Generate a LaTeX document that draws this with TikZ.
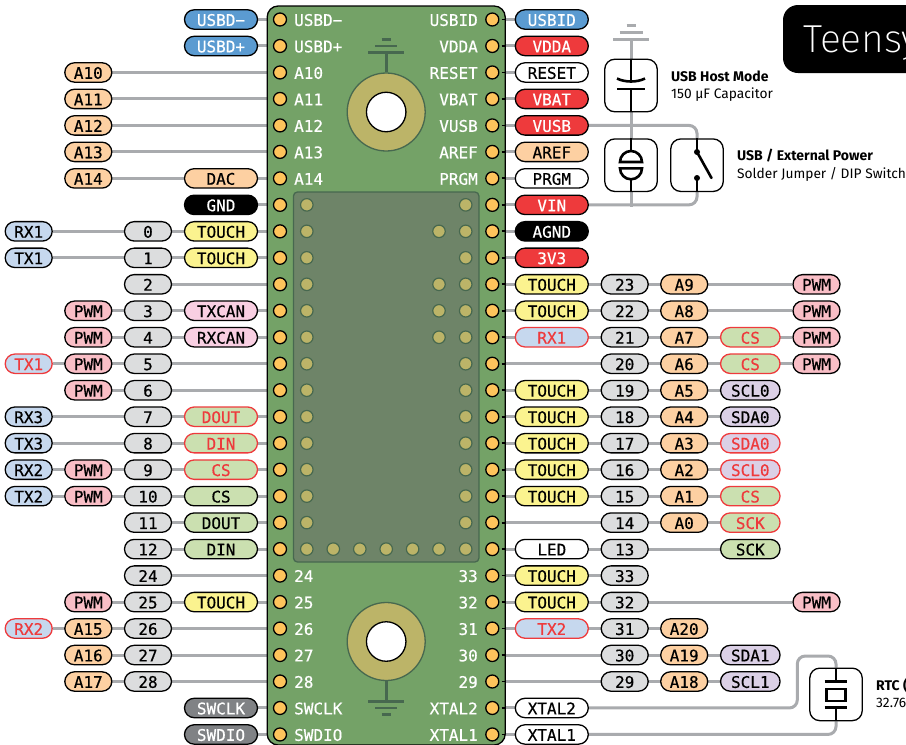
\documentclass[tikz,border=0pt]{standalone}
\usepackage{fontspec}
\newfontfamily\pillfont[FakeBold=0.5]{DejaVu Sans Mono}
\newfontfamily\capfont{Fira Sans}
\newfontfamily\titlefont{Fira Sans ExtraLight}
\pgfdeclarelayer{wires}
\pgfsetlayers{wires,main}
\definecolor{cusb}{HTML}{5B9BD1}
\definecolor{cred}{HTML}{EE3A3C}
\definecolor{cora}{HTML}{FDD0A2}
\definecolor{cgry}{HTML}{DCDDDE}
\definecolor{cyel}{HTML}{FBF38F}
\definecolor{cpnk}{HTML}{F9CFE2}
\definecolor{cpwm}{HTML}{F9BEC6}
\definecolor{cser}{HTML}{C6D8EE}
\definecolor{cgrn}{HTML}{CBE0B0}
\definecolor{cpur}{HTML}{DBD0E6}
\definecolor{cdrk}{HTML}{808285}
\definecolor{cwire}{HTML}{A9ABAE}
\definecolor{cpad}{HTML}{FEC45C}
\definecolor{cboard}{HTML}{74A267}
\definecolor{cmod}{HTML}{6E8468}
\definecolor{cring}{HTML}{BCB468}
\definecolor{cedge}{HTML}{47684F}
\tikzset{
  pill/.style={draw=black,line width=1.3pt,rounded corners=9.7pt,minimum height=19.4pt,inner sep=0pt,
    text height=12.7pt,text depth=0pt,font=\pillfont\fontsize{16}{18}\selectfont},
  usbp/.style={fill=cusb,text=white},
  redp/.style={fill=cred,text=white},
  blkp/.style={fill=black,text=white},
  drkp/.style={fill=cdrk,text=white},
  whtp/.style={fill=white},
  orap/.style={fill=cora},
  gryp/.style={fill=cgry},
  yelp/.style={fill=cyel},
  pnkp/.style={fill=cpnk},
  pwmp/.style={fill=cpwm},
  serp/.style={fill=cser},
  grnp/.style={fill=cgrn},
  purp/.style={fill=cpur},
  alert/.style={draw=cred,text=cred},
  wire/.style={draw=cwire,line width=3pt},
  pad/.style={circle,draw=black,line width=1.3pt,fill=cpad,minimum size=13pt,inner sep=0pt},
  boardlabel/.style={text=white,inner sep=0pt,text height=12.7pt,text depth=0pt,font=\pillfont\fontsize{16}{18}\selectfont},
  hole/.style={circle,draw=cedge,line width=1.2pt,fill=cring,minimum size=12.5pt,inner sep=0pt},
  ring/.style={circle,draw=cedge,line width=1.3pt,fill=cring,minimum size=78pt,inner sep=0pt},
  bore/.style={circle,draw=black,line width=1.3pt,fill=white,minimum size=39.5pt,inner sep=0pt},
  gndbar/.style={draw=cedge,line width=2.6pt},
  symbox/.style={draw=black,line width=1.3pt,fill=white,rounded corners=10pt,minimum size=52.5pt,inner sep=0pt},
  sym/.style={draw=black,line width=2.6pt},
  captxt/.style={inner sep=0pt,anchor=base west,font=\capfont\fontsize{13.75}{15}\selectfont},
  capbold/.style={inner sep=0pt,anchor=base west,font=\capfont\bfseries\fontsize{14}{15}\selectfont},
}
\def\xA{28.7}\def\xB{88.3}\def\xC{148}\def\xD{221}
\def\xE{551.8}\def\xF{624.7}\def\xG{684.2}\def\xH{750.3}\def\xK{816.5}
\def\wA{47}\def\wB{47}\def\wC{47}\def\wD{73}\def\wE{73}\def\wF{47}\def\wG{47}\def\wH{59.5}\def\wK{47}
% \pl{column}{row}{style}{text}
\newcommand\pl[4]{\node[pill,#3,minimum width=\csname w#1\endcsname pt] (#1#2) at ({\csname x#1\endcsname},{19.5+26.48*#2}) {#4};}
\begin{document}
\begin{tikzpicture}[x=1pt,y=-1pt]
\useasboundingbox (0,0) rectangle (906,745);
% board
\node[draw=black,line width=1.3pt,fill=cboard,rounded corners=11pt,minimum width=238pt,minimum height=739pt,inner sep=0pt] (board) at (386.2,375.5) {};
\node[draw=cedge,line width=1.3pt,fill=cmod,rounded corners=4pt,minimum width=185.5pt,minimum height=370pt,inner sep=0pt] (module) at (386.2,377) {};
% mounting holes
\node[ring] (ringT) at (386.2,112) {};
\node[bore] (boreT) at (386.2,112) {};
\node[ring] (ringB) at (386.2,641.5) {};
\node[bore] (boreB) at (386.2,641.5) {};
\coordinate (gT0) at (386.2,52.3);
\coordinate (gB0) at (386.2,701.3);
\draw[gndbar] (ringT.north) -- (gT0);
\draw[gndbar] (ringB.south) -- (gB0);
\draw[gndbar] ([xshift=-18pt]gT0) -- ([xshift=18pt]gT0);
\draw[gndbar] ([xshift=-11pt,yshift=6.3pt]gT0) -- ([xshift=11pt,yshift=6.3pt]gT0);
\draw[gndbar] ([xshift=-4.5pt,yshift=13pt]gT0) -- ([xshift=4.5pt,yshift=13pt]gT0);
\draw[gndbar] ([xshift=-18pt]gB0) -- ([xshift=18pt]gB0);
\draw[gndbar] ([xshift=-11pt,yshift=-6.5pt]gB0) -- ([xshift=11pt,yshift=-6.5pt]gB0);
\draw[gndbar] ([xshift=-4.5pt,yshift=-13.4pt]gB0) -- ([xshift=4.5pt,yshift=-13.4pt]gB0);
% module holes
\foreach \r in {7,...,20} {
  \node[hole] (hl\r) at (306.8,{19.5+26.48*\r}) {};
  \node[hole] (hr\r) at (465.7,{19.5+26.48*\r}) {};
}
\foreach \r in {8,10,11,12} \node[hole] (hx\r) at (439,{19.5+26.48*\r}) {};
\foreach \x in {333.3,359.8,386.2,412.6,439} \node[hole] (hb\x) at (\x,{19.5+26.48*20}) {};
% pads
\foreach \r in {0,...,27} {
  \node[pad] (P\r) at (280,{19.5+26.48*\r}) {};
  \node[pad] (Q\r) at (492.3,{19.5+26.48*\r}) {};
  \coordinate (qs\r) at (501.5,{19.5+26.48*\r});
  \coordinate (qe\r) at (505,{19.5+26.48*\r});
  \draw[black,line width=1.8pt] (qs\r) -- (qe\r);
}
% board labels
\foreach \r/\t in {0/USBD−,1/USBD+,2/A10,3/A11,4/A12,5/A13,6/A14,21/24,22/25,23/26,24/27,25/28,26/SWCLK,27/SWDIO}
  \node[boardlabel,anchor=west] (LL\r) at (294,{19.5+26.48*\r}) {\t};
\foreach \r/\t in {0/USBID,1/VDDA,2/RESET,3/VBAT,4/VUSB,5/AREF,6/PRGM,21/33,22/32,23/31,24/30,25/29,26/XTAL2,27/XTAL1}
  \node[boardlabel,anchor=east] (RL\r) at (478,{19.5+26.48*\r}) {\t};
% left pills
\pl{D}{0}{usbp}{USBD−}
\pl{D}{1}{usbp}{USBD+}
\pl{B}{2}{orap}{A10}
\pl{B}{3}{orap}{A11}
\pl{B}{4}{orap}{A12}
\pl{B}{5}{orap}{A13}
\pl{B}{6}{orap}{A14}
\pl{D}{6}{orap}{DAC}
\pl{D}{7}{blkp}{GND}
\pl{A}{8}{serp}{RX1}\pl{C}{8}{gryp}{0}\pl{D}{8}{yelp}{TOUCH}
\pl{A}{9}{serp}{TX1}\pl{C}{9}{gryp}{1}\pl{D}{9}{yelp}{TOUCH}
\pl{C}{10}{gryp}{2}
\pl{B}{11}{pwmp}{PWM}\pl{C}{11}{gryp}{3}\pl{D}{11}{pnkp}{TXCAN}
\pl{B}{12}{pwmp}{PWM}\pl{C}{12}{gryp}{4}\pl{D}{12}{pnkp}{RXCAN}
\pl{A}{13}{serp,alert}{TX1}\pl{B}{13}{pwmp}{PWM}\pl{C}{13}{gryp}{5}
\pl{B}{14}{pwmp}{PWM}\pl{C}{14}{gryp}{6}
\pl{A}{15}{serp}{RX3}\pl{C}{15}{gryp}{7}\pl{D}{15}{grnp,alert}{DOUT}
\pl{A}{16}{serp}{TX3}\pl{C}{16}{gryp}{8}\pl{D}{16}{grnp,alert}{DIN}
\pl{A}{17}{serp}{RX2}\pl{B}{17}{pwmp}{PWM}\pl{C}{17}{gryp}{9}\pl{D}{17}{grnp,alert}{CS}
\pl{A}{18}{serp}{TX2}\pl{B}{18}{pwmp}{PWM}\pl{C}{18}{gryp}{10}\pl{D}{18}{grnp}{CS}
\pl{C}{19}{gryp}{11}\pl{D}{19}{grnp}{DOUT}
\pl{C}{20}{gryp}{12}\pl{D}{20}{grnp}{DIN}
\pl{C}{21}{gryp}{24}
\pl{B}{22}{pwmp}{PWM}\pl{C}{22}{gryp}{25}\pl{D}{22}{yelp}{TOUCH}
\pl{A}{23}{serp,alert}{RX2}\pl{B}{23}{orap}{A15}\pl{C}{23}{gryp}{26}
\pl{B}{24}{orap}{A16}\pl{C}{24}{gryp}{27}
\pl{B}{25}{orap}{A17}\pl{C}{25}{gryp}{28}
\pl{D}{26}{drkp}{SWCLK}
\pl{D}{27}{drkp}{SWDIO}
% right pills
\pl{E}{0}{usbp}{USBID}
\pl{E}{1}{redp}{VDDA}
\pl{E}{2}{whtp}{RESET}
\pl{E}{3}{redp}{VBAT}
\pl{E}{4}{redp}{VUSB}
\pl{E}{5}{orap}{AREF}
\pl{E}{6}{whtp}{PRGM}
\pl{E}{7}{redp}{VIN}
\pl{E}{8}{blkp}{AGND}
\pl{E}{9}{redp}{3V3}
\pl{E}{10}{yelp}{TOUCH}\pl{F}{10}{gryp}{23}\pl{G}{10}{orap}{A9}\pl{K}{10}{pwmp}{PWM}
\pl{E}{11}{yelp}{TOUCH}\pl{F}{11}{gryp}{22}\pl{G}{11}{orap}{A8}\pl{K}{11}{pwmp}{PWM}
\pl{E}{12}{serp,alert}{RX1}\pl{F}{12}{gryp}{21}\pl{G}{12}{orap}{A7}\pl{H}{12}{grnp,alert}{CS}\pl{K}{12}{pwmp}{PWM}
\pl{F}{13}{gryp}{20}\pl{G}{13}{orap}{A6}\pl{H}{13}{grnp,alert}{CS}\pl{K}{13}{pwmp}{PWM}
\pl{E}{14}{yelp}{TOUCH}\pl{F}{14}{gryp}{19}\pl{G}{14}{orap}{A5}\pl{H}{14}{purp}{SCL0}
\pl{E}{15}{yelp}{TOUCH}\pl{F}{15}{gryp}{18}\pl{G}{15}{orap}{A4}\pl{H}{15}{purp}{SDA0}
\pl{E}{16}{yelp}{TOUCH}\pl{F}{16}{gryp}{17}\pl{G}{16}{orap}{A3}\pl{H}{16}{purp,alert}{SDA0}
\pl{E}{17}{yelp}{TOUCH}\pl{F}{17}{gryp}{16}\pl{G}{17}{orap}{A2}\pl{H}{17}{purp,alert}{SCL0}
\pl{E}{18}{yelp}{TOUCH}\pl{F}{18}{gryp}{15}\pl{G}{18}{orap}{A1}\pl{H}{18}{grnp,alert}{CS}
\pl{F}{19}{gryp}{14}\pl{G}{19}{orap}{A0}\pl{H}{19}{grnp,alert}{SCK}
\pl{E}{20}{whtp}{LED}\pl{F}{20}{gryp}{13}\pl{H}{20}{grnp}{SCK}
\pl{E}{21}{yelp}{TOUCH}\pl{F}{21}{gryp}{33}
\pl{E}{22}{yelp}{TOUCH}\pl{F}{22}{gryp}{32}\pl{K}{22}{pwmp}{PWM}
\pl{E}{23}{serp,alert}{TX2}\pl{F}{23}{gryp}{31}\pl{G}{23}{orap}{A20}
\pl{F}{24}{gryp}{30}\pl{G}{24}{orap}{A19}\pl{H}{24}{purp}{SDA1}
\pl{F}{25}{gryp}{29}\pl{G}{25}{orap}{A18}\pl{H}{25}{purp}{SCL1}
\pl{E}{26}{whtp}{XTAL2}
\pl{E}{27}{whtp}{XTAL1}
% schematic boxes
\node[symbox] (capbox) at (631,85.5) {};
\node[symbox] (jmpbox) at (631,165.2) {};
\node[symbox] (swbox) at (697,165.2) {};
\node[symbox] (xtalbox) at (836,694.4) {};
% capacitor
\coordinate (capU) at (631,81.5);
\coordinate (capL) at (631,89);
\draw[sym] (capbox.north) -- (capU);
\draw[sym] (capL) -- (capbox.south);
\draw[sym] ([xshift=-14pt,yshift=3pt]capU) .. controls ([xshift=-6pt,yshift=-1pt]capU) and ([xshift=6pt,yshift=-1pt]capU) .. ([xshift=14pt,yshift=3pt]capU);
\draw[sym] ([xshift=-14pt]capL) -- ([xshift=14pt]capL);
% solder jumper
\coordinate (jU) at (631,162);
\coordinate (jL) at (631,168.3);
\draw[sym] (jmpbox.north) -- ([yshift=11pt]jU);
\draw[sym] ([yshift=-11pt]jL) -- (jmpbox.south);
\draw[sym] ([xshift=-11pt]jU) arc[start angle=180,end angle=0,radius=11pt] -- cycle;
\draw[sym] ([xshift=-11pt]jL) arc[start angle=180,end angle=360,radius=11pt] -- cycle;
% switch
\coordinate (swU) at (697,152);
\coordinate (swL) at (697,178);
\coordinate (swE) at (711.5,178);
\draw[sym] (swbox.north) -- (swU);
\draw[sym,line cap=round] (swU) -- (swE);
\draw[sym] (swL) -- (swbox.south);
\fill[black] (swU) circle[radius=3pt];
\fill[black] (swL) circle[radius=3pt];
% crystal
\coordinate (xT) at (836,681.3);
\coordinate (xB) at (836,707.7);
\draw[sym] (xtalbox.north) -- (xT);
\draw[sym] (xB) -- (xtalbox.south);
\draw[sym] ([xshift=-11.3pt]xT) -- ([xshift=11.3pt]xT);
\draw[sym] ([xshift=-11.3pt]xB) -- ([xshift=11.3pt]xB);
\draw[sym] ([xshift=-9.7pt,yshift=-7.7pt]xT) rectangle ([xshift=9.7pt,yshift=6.7pt]xB);
% captions
\node[capbold] (t1) at (671,81) {USB Host Mode};
\node[captxt] (t2) at (671,98) {150 µF Capacitor};
\node[capbold] (t3) at (737,160) {USB / External Power};
\node[captxt] (t4) at (737,178) {Solder Jumper / DIP Switch};
\node[capbold] (t5) at (876,690) {RTC (};
\node[captxt] (t6) at (876,707) {32.76};
% title
\node[fill=black,rounded corners=15pt,minimum width=160pt,minimum height=68pt,inner sep=0pt] (titlebox) at (863,39) {};
\node[inner sep=0pt,anchor=base west,text=white,font=\titlefont\fontsize{39}{42}\selectfont] (title) at (803,52) {Teensy};
% wires
\begin{pgfonlayer}{wires}
\foreach \s/\e in {D0/P0,D1/P1,B2/P2,B3/P3,B4/P4,B5/P5,B6/P6,D7/P7,A8/P8,A9/P9,C10/P10,B11/P11,B12/P12,A13/P13,B14/P14,A15/P15,A16/P16,A17/P17,A18/P18,C19/P19,C20/P20,C21/P21,B22/P22,A23/P23,B24/P24,B25/P25,D26/P26,D27/P27,
  E0/Q0,E1/Q1,E2/Q2,E3/Q3,E4/Q4,E5/Q5,E6/Q6,E7/Q7,E8/Q8,E9/Q9,K10/Q10,K11/Q11,K12/Q12,K13/Q13,H14/Q14,H15/Q15,H16/Q16,H17/Q17,H18/Q18,H19/Q19,H20/Q20,F21/Q21,K22/Q22,G23/Q23,H24/Q24,H25/Q25,E26/Q26,E27/Q27}
  \draw[wire] (\s) -- (\e);
\coordinate (gS) at (631,39);
\coordinate (gEnd) at (631,206.5);
\draw[wire] (gS) -- (gEnd);
\draw[wire] ([xshift=-18pt]gS) -- ([xshift=18pt]gS);
\draw[wire] ([xshift=-11.5pt,yshift=6.5pt]gS) -- ([xshift=11.5pt,yshift=6.5pt]gS);
\draw[wire] ([xshift=-4.5pt,yshift=13.5pt]gS) -- ([xshift=4.5pt,yshift=13.5pt]gS);
\draw[wire,rounded corners=8pt] (E4.east) -| (swbox.north);
\draw[wire,rounded corners=8pt] (E7.east) -| (swbox.south);
\coordinate (xturn) at (797.3,656);
\draw[wire,rounded corners=8pt] (E26.east) -| (xturn) -| (xtalbox.north);
\draw[wire,rounded corners=8pt] (E27.east) -| (xtalbox.south);
\end{pgfonlayer}
\end{tikzpicture}
\end{document}
